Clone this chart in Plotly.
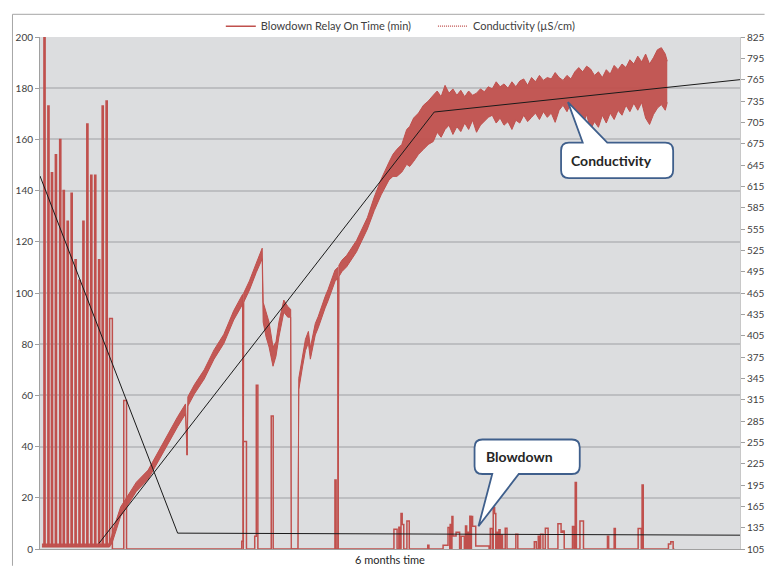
import plotly.graph_objects as go

# ---------------- data (x = day of the 6-month period) ----------------
# Blowdown relay on-time, step series: value holds until the next day entry
bd_day = [0.5, 1.0, 1.3, 2.0, 2.3, 2.9, 3.2, 3.9, 4.2, 5.0, 5.3, 5.9, 6.2, 6.9, 7.2,
          7.9, 8.2, 8.9, 9.2, 9.9, 10.2, 10.9, 11.2, 11.9, 12.2, 12.9, 13.2, 13.9, 14.2,
          14.9, 15.2, 15.8, 16.1, 16.8, 17.1, 17.7, 18.4, 21.3, 22.0,
          51.3, 51.7, 52.5, 54.6, 55.0, 55.4, 58.8, 59.3, 75.0, 75.3,
          90.0, 90.8, 91.25, 91.5, 91.8, 92.1, 92.5, 93.3, 93.9,
          98.6, 98.9, 102.5, 103.75, 104.2, 104.3, 104.5, 104.75, 105.0, 105.8, 106.7,
          107.1, 107.9, 108.2, 108.5, 108.7, 109.0, 109.3, 109.6, 109.7, 110.0, 110.8,
          114.2, 114.5, 115.0, 115.25, 115.6, 115.9, 116.25, 116.5, 116.7, 117.0, 117.3,
          117.6, 118.3, 118.75, 121.0, 121.5, 125.7, 126.2, 126.7, 127.0, 127.3, 127.9,
          128.5, 129.2, 131.7, 132.5, 132.9, 133.3, 135.4, 135.8, 136.1, 136.4, 137.3,
          138.2, 144.3, 144.6, 146.0, 146.3, 152.1, 152.9, 153.1, 153.4, 159.8, 160.4,
          161.0, 161.3]
bd_min = [1, 215, 1, 173, 1, 147, 1, 154, 1, 160, 1, 140, 1, 128, 1,
          139, 1, 113, 1, 105, 1, 128, 1, 166, 1, 146, 1, 146, 1,
          113, 1, 173, 1, 175, 1, 90, 0, 58, 0,
          3, 42, 0, 5, 64, 0, 52, 0, 27, 0,
          7.7, 0, 8.5, 0, 13.9, 9.6, 0, 10.9, 0,
          1.5, 0, 1.5, 8.4, 0, 9.6, 0, 12.7, 5.1, 6.5, 0,
          5, 0, 9, 0, 6.5, 0, 12.8, 0, 12.7, 8.9, 1.2,
          0, 8, 0, 16.2, 13.9, 0, 6.5, 0, 7.5, 0, 5.5,
          0, 8.1, 0, 5.8, 0, 2.8, 0, 5, 0, 5.8, 0,
          8.1, 0, 9.9, 6.5, 7, 0, 8.8, 0, 26, 0, 10.9,
          0, 5, 0, 8, 0, 8, 0, 25, 0, 2, 2.8,
          0, 0]

# Conductivity (uS/cm): upper and lower edge of the noisy band
cond_day = [0.5, 9.0, 17.5, 18.25, 19.0, 20.5, 22.0, 24.5, 27.5, 31.25, 35.0, 37.0, 37.4,
            37.6, 39.25, 41.75, 44.25, 46.75, 49.25, 51.5, 51.7, 51.8, 53.25, 55.0, 55.75,
            56.5, 56.75, 57.5, 58.25, 59.25, 60.0, 60.75, 62.0, 63.0, 63.75, 63.9, 65.6,
            65.8, 66.75, 67.5, 68.25, 68.75, 70.0, 70.75, 72.5, 73.25, 75.0, 75.7, 75.8,
            76.0, 76.75, 78.0, 80.5, 81.75, 83.25, 85.0, 86.75, 88.75, 89.75, 90.75, 92.0,
            93.25, 94.0, 95.0, 96.25, 97.5, 98.75,
            100, 101, 102, 103, 104, 105, 106, 107, 108, 109, 110, 111, 112, 113, 114,
            115, 116, 117, 118, 119, 120, 121, 122, 123, 124, 125, 126, 127, 128, 129,
            130, 131, 132, 133, 134, 135, 136, 137, 138, 139, 140, 141, 142, 143, 144,
            145, 146, 147, 148, 149, 150, 151, 152, 153, 154, 155, 156, 157, 158, 159,
            159.5]
cond_hi = [112, 112, 112, 124, 139, 164, 177, 199, 216, 254, 291, 309, 237,
           319, 336, 357, 385, 407, 440, 463, 105, 465, 482, 507, 517,
           528, 452, 438, 424, 389, 396, 424, 455, 446, 442, 105, 105,
           345, 377, 400, 411, 388, 422, 432, 460, 470, 497, 501, 105,
           504, 511, 518, 539, 553, 571, 600, 625, 649, 660, 667, 674,
           695, 699, 711, 718, 729, 735,
           743, 749, 741, 757, 746, 752, 743, 750, 741, 749, 743, 746, 752, 748, 755,
           752, 762, 755, 759, 753, 762, 755, 763, 766, 757, 768, 762, 771, 764, 768,
           766, 775, 768, 764, 771, 766, 776, 782, 776, 784, 780, 771, 776, 768, 779,
           773, 785, 779, 787, 782, 793, 787, 798, 790, 801, 787, 796, 807, 810, 801,
           791]
cond_lo = [108, 108, 108, 112, 126, 151, 164, 186, 203, 241, 277, 295, 237,
           306, 323, 344, 372, 394, 427, 449, 105, 452, 469, 494, 504,
           513, 424, 403, 389, 362, 376, 403, 438, 431, 431, 105, 105,
           329, 361, 384, 395, 372, 406, 416, 444, 454, 481, 486, 105,
           488, 495, 502, 523, 537, 555, 581, 603, 624, 629, 629, 635,
           646, 643, 650, 660, 667, 674,
           678, 691, 684, 695, 701, 688, 699, 692, 704, 695, 708, 691, 701, 706, 712,
           715, 704, 711, 701, 706, 695, 708, 704, 715, 706, 712, 718, 709, 720, 712,
           718, 705, 722, 729, 720, 732, 722, 711, 701, 716, 695, 706, 698, 715, 704,
           718, 709, 722, 715, 729, 720, 732, 722, 733, 711, 702, 716, 725, 730, 722,
           733]

# Trend lines
bd_trend_day = [0, 35.0, 178]
bd_trend_min = [145.7, 6.2, 5.4]
cond_trend_day = [15.0, 100.25, 178]
cond_trend_val = [113, 719.5, 765]

left_ticks = list(range(0, 201, 20))
right_ticks = list(range(105, 826, 30))

# ---------------- styling ----------------
RED = "#C0504D"
FONT = "Lato"
TXT = "#404040"
W, H = 777, 567
L, R, T, B = 40, 752, 31, 550  # plot area in pixels

def pp(px, py):
    return (px - L) / (R - L), (B - py) / (B - T)

NB = "\u00a0"
fig = go.Figure()

fig.add_trace(go.Scatter(x=bd_day, y=bd_min, mode="lines", line=dict(color=RED, width=1.5, shape="hv"),
                         name="Blowdown Relay On Time (min)" + NB * 6, yaxis="y"))
fig.add_trace(go.Scatter(x=cond_day, y=cond_hi, mode="lines", line=dict(color=RED, width=1),
                         showlegend=False, yaxis="y2", hoverinfo="skip"))
fig.add_trace(go.Scatter(x=cond_day, y=cond_lo, mode="lines", line=dict(color=RED, width=1),
                         fill="tonexty", fillcolor="rgba(192,80,77,0.95)",
                         showlegend=False, yaxis="y2", hoverinfo="skip"))
fig.add_trace(go.Scatter(x=[None], y=[None], mode="lines", line=dict(color=RED, width=1.3, dash="1px,1px"),
                         name="Conductivity (µS/cm)", yaxis="y2"))
fig.add_trace(go.Scatter(x=cond_trend_day, y=cond_trend_val, mode="lines", line=dict(color="#1A1A1A", width=1),
                         showlegend=False, yaxis="y2"))
fig.add_trace(go.Scatter(x=bd_trend_day, y=bd_trend_min, mode="lines", line=dict(color="#1A1A1A", width=1),
                         showlegend=False, yaxis="y3"))

def callout_path(left, top, right, bottom, r, base_a, tip, base_b, side):
    def P(x, y):
        a, b = pp(x, y)
        return f"{a:.5f},{b:.5f}"
    d = "M " + P(left + r, top)
    if side == "top":
        d += " L " + P(base_a, top) + " L " + P(*tip) + " L " + P(base_b, top)
    d += " L " + P(right - r, top) + " Q " + P(right, top) + " " + P(right, top + r)
    d += " L " + P(right, bottom - r) + " Q " + P(right, bottom) + " " + P(right - r, bottom)
    if side == "bottom":
        d += " L " + P(base_b, bottom) + " L " + P(*tip) + " L " + P(base_a, bottom)
    d += " L " + P(left + r, bottom) + " Q " + P(left, bottom) + " " + P(left, bottom - r)
    d += " L " + P(left, top + r) + " Q " + P(left, top) + " " + P(left + r, top) + " Z"
    return d

BLUE = "#3F5F8C"
shapes = [
    dict(type="path", xref="paper", yref="paper", layer="above",
         path=callout_path(570, 138, 684, 174, 8, 592, (577, 97), 617, "top"),
         fillcolor="white", line=dict(color=BLUE, width=1.8)),
    dict(type="path", xref="paper", yref="paper", layer="above",
         path=callout_path(482, 439, 589, 474, 8, 500, (486, 527), 527, "bottom"),
         fillcolor="white", line=dict(color=BLUE, width=1.8)),
]
# chart frame
x0, y0 = pp(12, 8)
x1, _ = pp(W, 8)
_, yb = pp(12, H)
shapes.append(dict(type="line", xref="paper", yref="paper", x0=x0, y0=y0, x1=x1, y1=y0,
                   line=dict(color="#A6A6A6", width=1)))
shapes.append(dict(type="line", xref="paper", yref="paper", x0=x0, y0=y0, x1=x0, y1=yb,
                   line=dict(color="#A6A6A6", width=1)))

ann = []
for (px, py, txt, size, bold) in [(621, 156, "Conductivity", 14, True),
                                  (528, 456, "Blowdown", 14, True),
                                  (396, 561, "6 months time", 11, False)]:
    ax, ay = pp(px, py)
    ann.append(dict(xref="paper", yref="paper", x=ax, y=ay, xanchor="center", yanchor="middle",
                    text=f"<b>{txt}</b>" if bold else txt, showarrow=False,
                    font=dict(family=FONT, size=size, color="#262626")))

lx, ly = pp(407, 20)
fig.update_layout(
    width=W, height=H,
    margin=dict(l=L, r=W - R, t=T, b=H - B, pad=0),
    paper_bgcolor="white", plot_bgcolor="#DCDDDF",
    font=dict(family=FONT, size=10, color=TXT),
    showlegend=True,
    legend=dict(orientation="h", x=lx, xanchor="center", y=ly, yanchor="middle",
                font=dict(family=FONT, size=11, color=TXT), bgcolor="rgba(0,0,0,0)",
                itemwidth=30, traceorder="normal"),
    xaxis=dict(range=[0, 178], showgrid=False, zeroline=False, showticklabels=False,
               showline=True, linecolor="#A0A0A0", linewidth=1, ticks=""),
    yaxis=dict(range=[0, 200], tickvals=left_ticks, showgrid=True, gridcolor="#BDBEC1", gridwidth=1.5,
               zeroline=False, showline=True, linecolor="#A0A0A0", linewidth=1,
               ticks="outside", ticklen=4, tickcolor="#A0A0A0",
               tickfont=dict(family=FONT, size=10, color=TXT)),
    yaxis2=dict(range=[105, 825], tickvals=right_ticks, overlaying="y", side="right",
                showgrid=False, zeroline=False, showline=True, linecolor="#C8C8C8",
                ticks="outside", ticklen=4, tickcolor="#A0A0A0",
                tickfont=dict(family=FONT, size=10, color=TXT)),
    yaxis3=dict(range=[0, 200], overlaying="y", visible=False),
    shapes=shapes, annotations=ann,
)

fig.write_html("out.html", config={"displayModeBar": False},
               post_script="document.body.style.margin='0';document.body.style.overflow='hidden';")
